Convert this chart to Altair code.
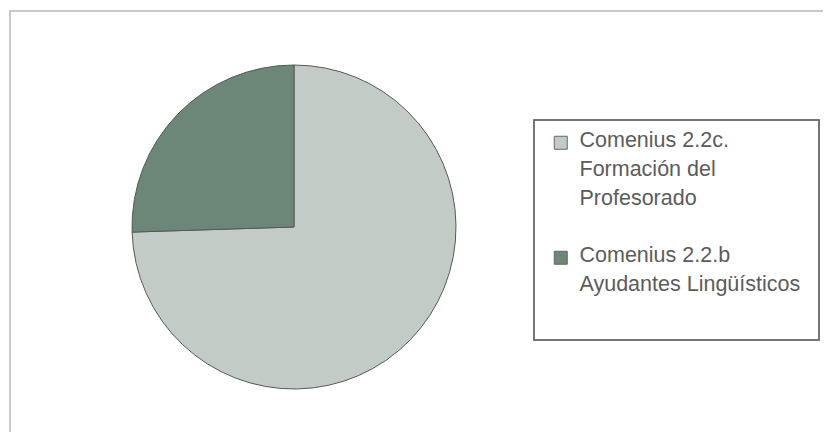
import altair as alt
import pandas as pd

categories = ["Comenius 2.2c.\nFormación del\nProfesorado", "Comenius 2.2.b\nAyudantes Lingüísticos"]
values = [74.5, 25.5]
order = [1, 2]
colors = ["#c3cbc7", "#6c8777"]

df = pd.DataFrame({"cat": categories, "val": values, "ord": order})

W, H = 815, 424

pie = alt.Chart(df).mark_arc(radius=162, stroke="#555a57", strokeWidth=1).encode(
    theta=alt.Theta("val:Q", stack=True),
    order=alt.Order("ord:Q"),
    x=alt.value(285),
    y=alt.value(219),
    color=alt.Color(
        "cat:N",
        scale=alt.Scale(domain=categories, range=colors),
        sort=categories,
        legend=alt.Legend(
            title=None,
            orient="none",
            legendX=541,
            legendY=124,
            padding=0,
            labelExpr="split(datum.label, '\\n')",
            labelFont="Liberation Sans",
            labelFontSize=21.5,
            labelColor="#5c5c5c",
            labelLimit=400,
            labelOffset=8,
            labelBaseline="top",
            symbolType="square",
            symbolSize=169,
            symbolStrokeColor="#666666",
            symbolStrokeWidth=1,
            rowPadding=34,
        ),
    ),
)

box = alt.Chart(df).mark_rect(fill=None, stroke="#6e6e6e", strokeWidth=1.5).encode(
    x=alt.value(525), x2=alt.value(810), y=alt.value(112), y2=alt.value(332)
)

frame_top = alt.Chart(df).mark_rule(color="#c8c8c8", strokeWidth=2).encode(
    x=alt.value(0), x2=alt.value(W), y=alt.value(3)
)
frame_left = alt.Chart(df).mark_rule(color="#c8c8c8", strokeWidth=2).encode(
    x=alt.value(1), y=alt.value(3), y2=alt.value(H)
)

chart = alt.layer(frame_top, frame_left, box, pie).properties(
    width=W, height=H, autosize=alt.AutoSizeParams(type="fit", contains="padding"), padding=0
).configure(
    style={"guide-label": {"lineHeight": 29, "dy": -13}}
).configure_view(strokeWidth=0, stroke="transparent")

chart.save("out.html", embed_options={"renderer": "svg", "actions": False})
